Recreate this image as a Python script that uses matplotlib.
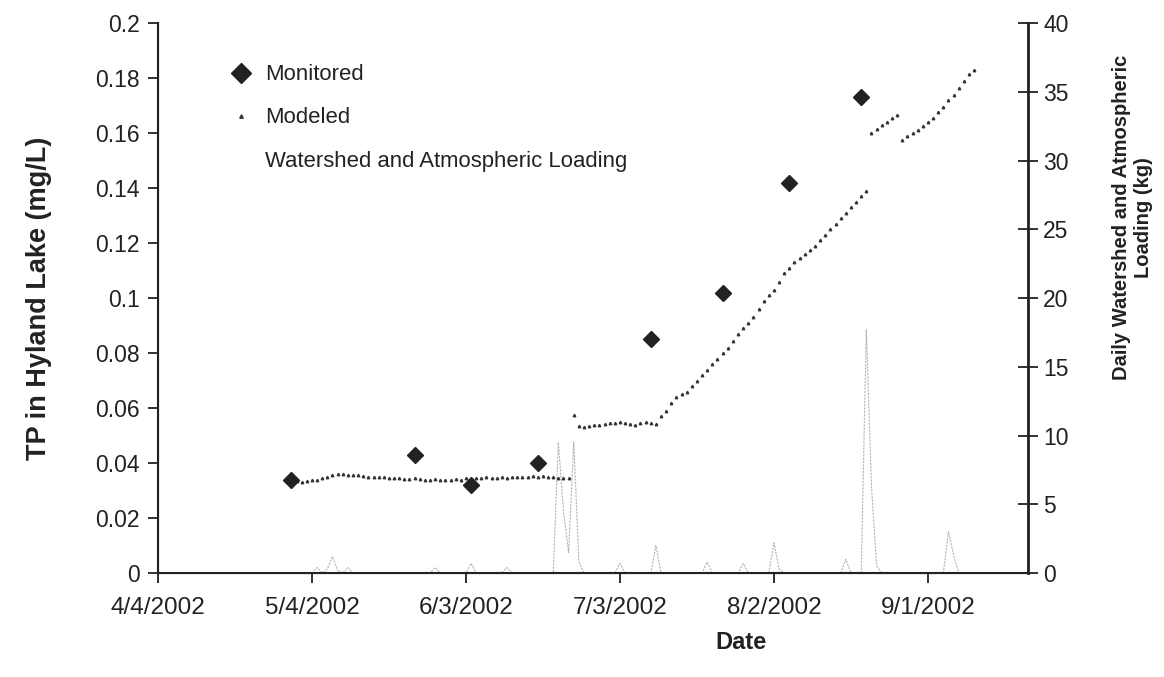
import numpy as np
import pandas as pd
import matplotlib
matplotlib.use("Agg")
import matplotlib.pyplot as plt
from matplotlib.lines import Line2D

plt.rcParams['font.family'] = ['Liberation Sans', 'DejaVu Sans']

# monitored TP (mg/L)
mon_dates = ["2002-04-30", "2002-05-24", "2002-06-04", "2002-06-17",
             "2002-07-09", "2002-07-23", "2002-08-05", "2002-08-19"]
mon_tp = [0.034, 0.043, 0.032, 0.040, 0.085, 0.102, 0.142, 0.173]

# modeled TP, one value per day starting 4/30/2002
mod_start = "2002-04-30"
mod_tp = [
    # 4/30 - 6/23
    0.034, 0.0335, 0.033, 0.0335, 0.034, 0.034, 0.0345, 0.035, 0.0355, 0.036,
    0.036, 0.0358, 0.0356, 0.0355, 0.0352, 0.035, 0.035, 0.0348, 0.0348, 0.0346,
    0.0345, 0.0344, 0.0343, 0.0342, 0.0345, 0.0343, 0.034, 0.034, 0.0342, 0.0338,
    0.034, 0.0337, 0.0342, 0.034, 0.0345, 0.0342, 0.0346, 0.0344, 0.0348, 0.0346,
    0.0347, 0.0348, 0.0347, 0.0349, 0.0348, 0.035, 0.0349, 0.0351, 0.035, 0.0352,
    0.035, 0.0348, 0.0346, 0.0345, 0.0344,
    # 6/24 - 7/10
    0.0575, 0.0535, 0.0532, 0.0535, 0.0538, 0.054, 0.0542, 0.0545, 0.0546, 0.0548,
    0.0545, 0.0543, 0.054, 0.0545, 0.0548, 0.0545, 0.0542,
    # 7/11 - 8/20
    0.057, 0.059, 0.062, 0.064, 0.065, 0.066, 0.068, 0.070, 0.072, 0.074,
    0.076, 0.078, 0.080, 0.082, 0.0845, 0.087, 0.089, 0.091, 0.093, 0.096,
    0.099, 0.101, 0.103, 0.106, 0.109, 0.111, 0.113, 0.1145, 0.116, 0.1175,
    0.119, 0.121, 0.123, 0.125, 0.127, 0.129, 0.131, 0.133, 0.135, 0.137,
    0.139,
    # 8/21 - 8/26
    0.160, 0.1615, 0.163, 0.164, 0.1655, 0.1665,
    # 8/27 - 9/10
    0.1575, 0.159, 0.160, 0.161, 0.1625, 0.164, 0.1655, 0.1675, 0.1695, 0.172,
    0.174, 0.1765, 0.179, 0.1815, 0.183,
]

# daily watershed + atmospheric loading (kg), days after 4/4/2002
load_day = [0, 30, 31, 32, 33, 34, 35, 36, 37, 38, 53, 54, 55, 60, 61, 62, 67, 68, 69,
            77, 78, 79, 80, 81, 82, 83, 89, 90, 91, 96, 97, 98, 106, 107, 108,
            113, 114, 115, 119, 120, 121, 122, 133, 134, 135, 137, 138, 139, 140, 141,
            153, 154, 155, 156, 169]
load_kg = [0, 0, 0.4, 0, 0.3, 1.2, 0.2, 0, 0.4, 0, 0, 0.4, 0, 0, 0.7, 0, 0, 0.4, 0,
           0, 9.5, 4.5, 1.5, 9.5, 0.8, 0, 0, 0.7, 0, 0, 2.0, 0, 0, 0.8, 0,
           0, 0.7, 0, 0, 2.2, 0.3, 0, 0, 1.0, 0, 0, 17.7, 6.3, 0.5, 0,
           0, 3.0, 1.3, 0, 0]

tick_labels = ["4/4/2002", "5/4/2002", "6/3/2002", "7/3/2002", "8/2/2002", "9/1/2002"]

base = pd.Timestamp("2002-04-04")
mon_x = pd.to_datetime(mon_dates)
mod_x = pd.date_range(mod_start, periods=len(mod_tp), freq="D")
load_x = base + pd.to_timedelta(load_day, unit="D")
tick_x = pd.to_datetime(tick_labels, format="%m/%d/%Y")

fig = plt.figure(figsize=(11.64, 6.77), dpi=100)
ax = fig.add_axes([0.1357, 0.1536, 0.7475, 0.8124])
ax2 = ax.twinx()

ink = "#222222"

ax2.plot(load_x, load_kg, color="#b4b4b4", lw=0.8, linestyle=(0, (2, 1)), zorder=1)
ax.plot(mod_x, mod_tp, linestyle="none", marker="^", markersize=1.8,
        color="#333333", zorder=3)
ax.plot(mon_x, mon_tp, linestyle="none", marker="D", markersize=8.5,
        color=ink, zorder=4)

ax.set_zorder(ax2.get_zorder() + 1)
ax.patch.set_visible(False)

ax.set_xlim(base, base + pd.Timedelta(days=169.5))
ax.set_ylim(0, 0.2)
ax2.set_ylim(0, 40)
ax.set_yticks(np.arange(0, 0.201, 0.02))
ax.set_yticklabels(["0", "0.02", "0.04", "0.06", "0.08", "0.1", "0.12",
                    "0.14", "0.16", "0.18", "0.2"])
ax2.set_yticks(np.arange(0, 41, 5))
ax.set_xticks(tick_x)
ax.set_xticklabels(tick_labels)

for a in (ax, ax2):
    a.spines["top"].set_visible(False)
    for s in a.spines.values():
        s.set_color(ink)
ax.spines["left"].set_linewidth(1.5)
ax.spines["bottom"].set_linewidth(1.5)
ax2.spines["right"].set_linewidth(2.0)

ax.tick_params(axis="both", direction="out", length=7, width=1.3,
               colors=ink, labelsize=16.5, pad=6)
ax.tick_params(axis="x", pad=10, labelsize=17.5)
ax2.tick_params(axis="y", direction="inout", length=14, width=1.3,
                colors=ink, labelsize=16.5, pad=4)

ax.set_xlabel("Date", fontsize=17, fontweight="bold", color=ink)
ax.xaxis.set_label_coords(0.67, -0.105)
ax.set_ylabel("TP in Hyland Lake (mg/L)", fontsize=19.5, fontweight="bold",
              color=ink)
ax.yaxis.set_label_coords(-0.122, 0.5)
ax2.set_ylabel("Daily Watershed and Atmospheric\nLoading (kg)", fontsize=14.5,
               fontweight="bold", color=ink, linespacing=1.15)
ax2.yaxis.set_label_coords(1.097, 0.647)

handles = [
    Line2D([], [], linestyle="none", marker="D", markersize=10, color=ink),
    Line2D([], [], linestyle="none", marker="^", markersize=2.5, color="#333333"),
    Line2D([], [], linestyle="none", marker=""),
]
ax.legend(handles, ["Monitored", "Modeled", "Watershed and Atmospheric Loading"],
          loc="upper left", bbox_to_anchor=(0.06, 0.961), frameon=False,
          fontsize=15.9, handlelength=1.0, handletextpad=0.6,
          labelspacing=1.0, labelcolor=ink)

fig.savefig("out.png", dpi=100)
